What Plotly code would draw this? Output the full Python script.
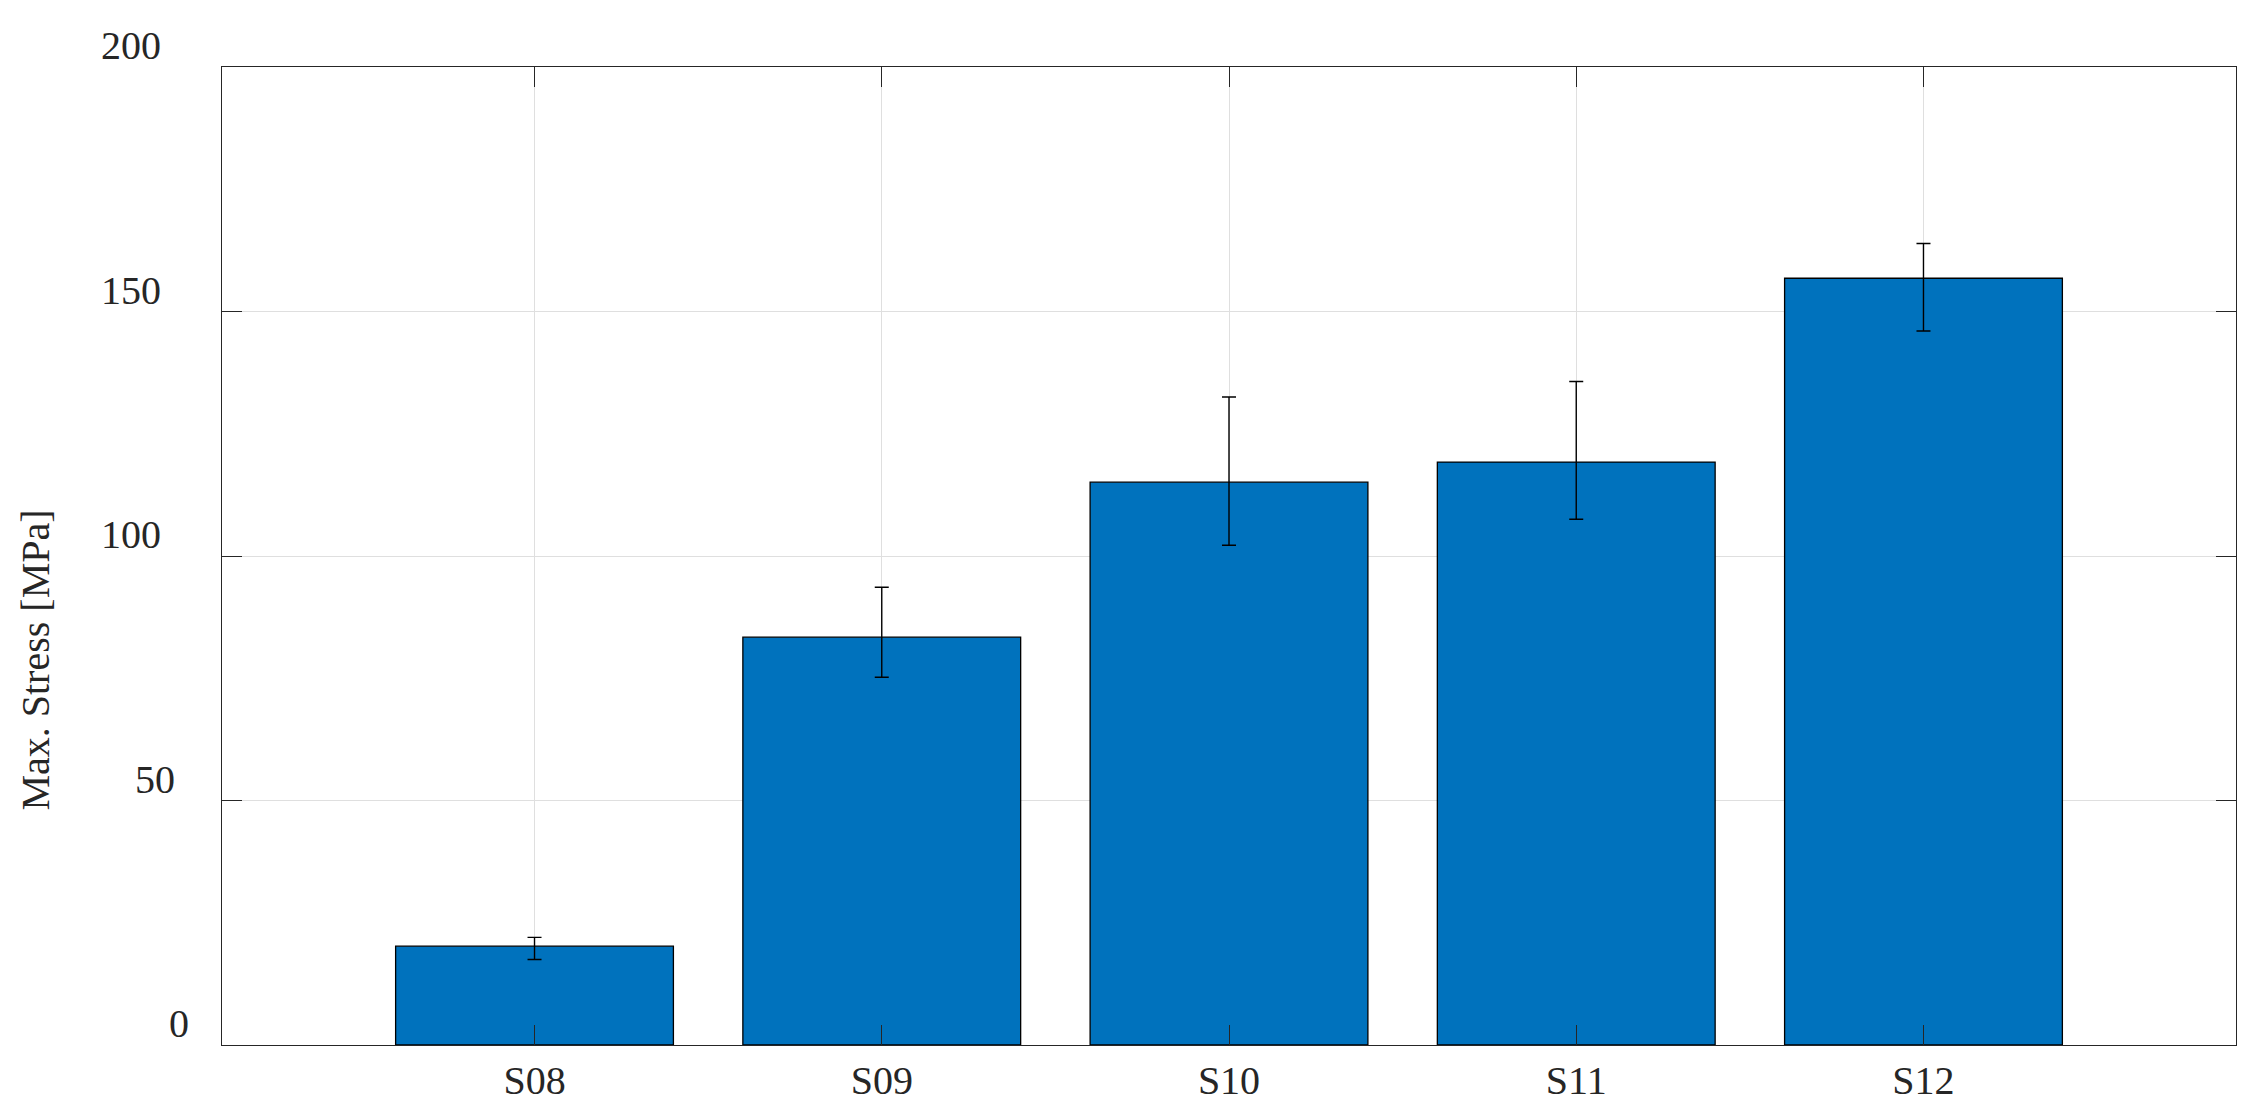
import plotly.graph_objects as go

# ---- data ----
categories = ["S08", "S09", "S10", "S11", "S12"]
max_stress = [20.2, 83.4, 115.1, 119.2, 156.8]
err_plus = [1.8, 10.2, 17.4, 16.5, 7.1]
err_minus = [2.7, 8.2, 12.9, 11.7, 10.8]
y_tick_vals = [0, 50, 100, 150, 200]
y_tick_text = ["0", "50", "100", "150", "200"]
y_title = "Max. Stress [MPa]"

FONT = "Liberation Serif"
AX = "#262626"
GRID = "#dfdfdf"

fig = go.Figure()
fig.add_trace(go.Bar(
    x=categories,
    y=max_stress,
    width=0.8,
    marker=dict(color="#0072BD", line=dict(color="#000000", width=1.3)),
    error_y=dict(
        type="data",
        symmetric=False,
        array=err_plus,
        arrayminus=err_minus,
        color="#000000",
        thickness=1.4,
        width=7,
    ),
    showlegend=False,
))

# page has an 8px body margin: shrink the figure accordingly
fig.update_layout(
    width=2255,
    height=1104,
    margin=dict(l=214, r=27, t=59, b=67, pad=0),
    paper_bgcolor="white",
    plot_bgcolor="white",
    font=dict(family=FONT, size=40, color=AX),
    bargap=0.2,
)

fig.update_xaxes(
    type="category",
    range=[-0.9, 4.9],
    automargin=False,
    showline=True,
    linecolor=AX,
    linewidth=1.3,
    mirror="ticks",
    ticks="inside",
    ticklen=20,
    tickwidth=1.3,
    tickcolor=AX,
    showgrid=True,
    gridcolor=GRID,
    gridwidth=1,
    tickfont=dict(family=FONT, size=40, color=AX),
    ticklabelstandoff=0,
    zeroline=False,
)

fig.update_yaxes(
    range=[0, 200],
    automargin=False,
    tickmode="array",
    tickvals=y_tick_vals,
    ticktext=y_tick_text,
    showticklabels=False,
    showline=True,
    linecolor=AX,
    linewidth=1.3,
    mirror="ticks",
    ticks="inside",
    ticklen=20,
    tickwidth=1.3,
    tickcolor=AX,
    showgrid=True,
    gridcolor=GRID,
    gridwidth=1,
    zeroline=False,
)

# y tick labels placed just above their tick, as in the reference
for val, txt in zip(y_tick_vals, y_tick_text):
    fig.add_annotation(
        text=txt,
        xref="paper", yref="y",
        x=0, y=val,
        xanchor="right", yanchor="bottom",
        xshift=-59 + 14 * (3 - len(txt)),
        yshift=-3,
        showarrow=False,
        font=dict(family=FONT, size=40, color=AX),
    )

fig.add_annotation(
    text=y_title,
    xref="paper", yref="paper",
    x=-0.0924, y=0.394,
    xanchor="center", yanchor="middle",
    textangle=-90,
    showarrow=False,
    font=dict(family=FONT, size=40, color=AX),
)

fig.write_html("out.html")
